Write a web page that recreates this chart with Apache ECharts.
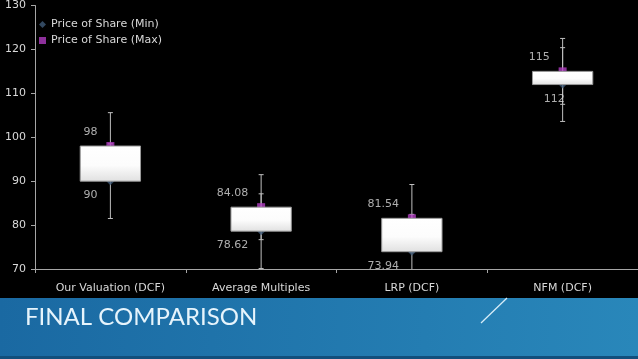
<!DOCTYPE html>
<html>
<head>
<meta charset="utf-8">
<script src="https://cdn.jsdelivr.net/npm/echarts@6/dist/echarts.min.js"></script>
<style>
html,body{margin:0;padding:0;background:#000;}
#chart{width:638px;height:359px;}
</style>
</head>
<body>
<div id="chart"></div>
<script>
const categories = ['Our Valuation (DCF)', 'Average Multiples', 'LRP (DCF)', 'NFM (DCF)'];
const minPrice = [90, 78.62, 73.94, 112];
const maxPrice = [98, 84.08, 81.54, 115];
const minError = [8.5, 8.5, 8.5, 8.4];
const maxError = [7.6, 7.4, 7.7, 7.5];
const seriesNames = ['Price of Share (Min)', 'Price of Share (Max)'];
const yMin = 70, yMax = 130, yStep = 10;

const FONT = '"DejaVu Sans"';
const TFONT = 'Lato';
const TXT = '#d9d9d9';

function errorBarItem(params, api) {
  const i = api.value(0), v = api.value(1), e = api.value(2);
  const top = api.coord([i, v + e]);
  const bot = api.coord([i, v - e]);
  const cap = 2.5;
  const st = {stroke: '#bfbfbf', lineWidth: 1};
  return {type: 'group', children: [
    {type: 'line', shape: {x1: top[0], y1: top[1], x2: bot[0], y2: bot[1]}, style: st},
    {type: 'line', shape: {x1: top[0]-cap, y1: top[1], x2: top[0]+cap, y2: top[1]}, style: st},
    {type: 'line', shape: {x1: bot[0]-cap, y1: bot[1], x2: bot[0]+cap, y2: bot[1]}, style: st}
  ]};
}

function boxItem(params, api) {
  const i = api.value(0);
  const lo = api.coord([i, api.value(1)]);
  const hi = api.coord([i, api.value(2)]);
  const w = api.size([1, 0])[0] * 0.4;
  return {type: 'rect', shape: {x: lo[0] - w/2, y: hi[1], width: w, height: lo[1] - hi[1]},
    style: {fill: new echarts.graphic.LinearGradient(0, 0, 0, 1, [
      {offset: 0, color: '#ffffff'}, {offset: 0.55, color: '#fcfcfc'}, {offset: 1, color: '#e0e0e0'}]),
      stroke: '#9a9a9a', lineWidth: 1}};
}

const chart = echarts.init(document.getElementById('chart'));
chart.setOption({
  backgroundColor: '#000',
  animation: false,
  textStyle: {fontFamily: FONT},
  grid: {left: 35, right: 0, top: 4, bottom: 90},
  legend: {
    orient: 'vertical', left: 34, top: 14, itemWidth: 7, itemHeight: 7, itemGap: 5,
    textStyle: {color: TXT, fontSize: 11, fontFamily: FONT},
    data: [{name: seriesNames[0], icon: 'diamond'}, {name: seriesNames[1], icon: 'rect'}]
  },
  xAxis: {
    type: 'category', data: categories, boundaryGap: true,
    axisLine: {lineStyle: {color: '#a6a6a6', width: 1}},
    axisTick: {show: true, length: 4, lineStyle: {color: '#a6a6a6'}},
    axisLabel: {color: TXT, fontSize: 11, margin: 14, fontFamily: FONT}
  },
  yAxis: {
    type: 'value', min: yMin, max: yMax, interval: yStep,
    axisLine: {show: true, lineStyle: {color: '#a6a6a6', width: 1}},
    axisTick: {show: true, length: 4, lineStyle: {color: '#a6a6a6'}},
    splitLine: {show: false},
    axisLabel: {color: TXT, fontSize: 11, margin: 9, fontFamily: FONT}
  },
  series: [
    {type: 'custom', name: 'errMin', clip: true, renderItem: errorBarItem, z: 1,
     encode: {x: 0, y: 1}, data: categories.map((c, i) => [i, minPrice[i], minError[i]])},
    {type: 'custom', name: 'errMax', clip: true, renderItem: errorBarItem, z: 1,
     encode: {x: 0, y: 1}, data: categories.map((c, i) => [i, maxPrice[i], maxError[i]])},
    {type: 'scatter', name: seriesNames[0], symbol: 'diamond', symbolSize: 8, z: 2,
     itemStyle: {color: '#3f5a78'},
     label: {show: true, position: 'left', distance: 9, offset: [0, 14], color: TXT, fontSize: 11, fontFamily: FONT},
     data: minPrice.map((v, i) => i === 3 ? {value: v, label: {offset: [15, 15]}} : v)},
    {type: 'scatter', name: seriesNames[1], symbol: 'rect', symbolSize: 8, z: 2,
     itemStyle: {color: '#b03cc2'},
     label: {show: true, position: 'left', distance: 9, offset: [0, -14], color: TXT, fontSize: 11, fontFamily: FONT},
     data: maxPrice.slice()},
    {type: 'custom', name: 'box', clip: true, renderItem: boxItem, z: 3,
     encode: {x: 0, y: [1, 2]}, data: categories.map((c, i) => [i, minPrice[i], maxPrice[i]])}
  ],
  graphic: [
    {type: 'rect', left: 0, top: 298, z: 0, silent: true,
     shape: {width: 638, height: 58},
     style: {fill: new echarts.graphic.LinearGradient(0, 0, 1, 0.3, [
       {offset: 0, color: '#1a69a2'}, {offset: 1, color: '#2987ba'}])}},
    {type: 'rect', left: 0, top: 356, z: 0, silent: true,
     shape: {width: 638, height: 3}, style: {fill: '#124f7c'}},
    {type: 'line', z: 1, silent: true,
     shape: {x1: 507, y1: 298, x2: 481, y2: 323}, style: {stroke: '#d6ecf8', lineWidth: 1.3}},
    {type: 'text', x: 25, y: 317, z: 1, silent: true,
     style: {text: 'FINAL COMPARISON', fill: '#e6f4fc', font: '24px ' + TFONT, textVerticalAlign: 'middle'}}
  ]
});
</script>
</body>
</html>
